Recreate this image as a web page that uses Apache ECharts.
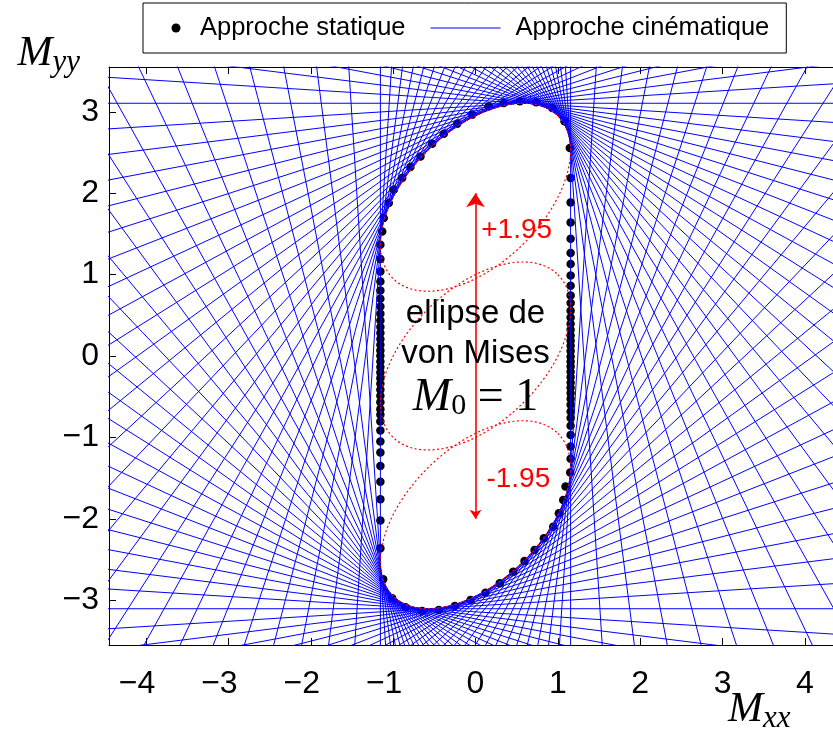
<!DOCTYPE html>
<html><head><meta charset="utf-8">
<script src="https://cdn.jsdelivr.net/npm/echarts@6/dist/echarts.min.js"></script>
<style>html,body{margin:0;padding:0;background:#fff}#c{width:833px;height:731px}</style>
</head><body><div id="c"></div>
<script>
// ---------- data ----------
const xTicks = [-4, -3, -2, -1, 0, 1, 2, 3, 4];
const yTicks = [-3, -2, -1, 0, 1, 2, 3];
const xRange = [-4.45, 4.45];
const yRange = [-3.55, 3.55];

// von Mises ellipse (M0) and its shifted copies (+1.95 / -1.95)
const M0 = 1;
const ellipseShifts = [1.95, 0, -1.95];
const hullShifts = [1.95, -1.95];

// kinematic approach: normal directions (degrees) of the support lines
const kinematicAnglesDeg = [0, 3.6, 7.2, 10.8, 14.4, 18, 21.6, 25.2, 28.8, 32.4, 36, 39.6, 43.2, 46.8, 50.4, 54, 57.6, 61.2, 64.8, 68.4, 72, 75.6, 79.2, 82.8, 86.4,
  90, 93.6, 97.2, 100.8, 104.4, 108, 111.6, 115.2, 118.8, 122.4, 126, 129.6, 133.2, 136.8, 140.4, 144, 147.6, 151.2, 154.8, 158.4, 162, 165.6, 169.2, 172.8, 176.4,
  180, 183.6, 187.2, 190.8, 194.4, 198, 201.6, 205.2, 208.8, 212.4, 216, 219.6, 223.2, 226.8, 230.4, 234, 237.6, 241.2, 244.8, 248.4, 252, 255.6, 259.2, 262.8, 266.4,
  270, 273.6, 277.2, 280.8, 284.4, 288, 291.6, 295.2, 298.8, 302.4, 306, 309.6, 313.2, 316.8, 320.4, 324, 327.6, 331.2, 334.8, 338.4, 342, 345.6, 349.2, 352.8, 356.4];

// static approach points
const staticX = [
  -1.155, -1.133, -1.114, -1.053, -0.992, -0.890, -0.790, -0.668, -0.526, -0.385, -0.222, -0.040, 0.162, 0.344, 0.538, 0.737, 0.932, 1.081, 1.145,
  1.155, 1.155, 1.155, 1.155, 1.155, 1.155, 1.155, 1.155, 1.155, 1.155, 1.155, 1.155, 1.155, 1.155, 1.155, 1.155, 1.155, 1.155, 1.155, 1.155,
  1.155, 1.155, 1.155, 1.155, 1.155, 1.155, 1.155, 1.155, 1.155, 1.155, 1.155, 1.155, 1.155, 1.155, 1.150,
  1.093, 1.065, 1.012, 0.944, 0.830, 0.717, 0.595, 0.458, 0.295, 0.121, -0.061, -0.251, -0.446, -0.647, -0.850, -1.012, -1.121,
  -1.155, -1.155, -1.155, -1.155, -1.155, -1.155, -1.155, -1.155, -1.155, -1.155, -1.155, -1.155, -1.155, -1.155, -1.155, -1.155, -1.155,
  -1.155, -1.155, -1.155, -1.155, -1.155, -1.155, -1.155, -1.155, -1.155, -1.155, -1.155, -1.155, -1.155, -1.155, -1.155, -1.155];
const staticY = [
  1.367, 1.530, 1.695, 1.880, 2.043, 2.187, 2.322, 2.452, 2.608, 2.731, 2.854, 2.965, 3.067, 3.109, 3.128, 3.116, 3.047, 2.883, 2.556,
  2.187, 1.887, 1.641, 1.441, 1.265, 1.130, 0.990, 0.863, 0.744, 0.650, 0.556, 0.473, 0.396, 0.322, 0.252, 0.187, 0.125, 0.060, -0.006, -0.068,
  -0.129, -0.194, -0.259, -0.326, -0.391, -0.456, -0.526, -0.600, -0.682, -0.763, -0.858, -0.969, -1.112, -1.263, -1.432,
  -1.604, -1.768, -1.931, -2.096, -2.238, -2.382, -2.517, -2.649, -2.792, -2.907, -2.997, -3.071, -3.120, -3.132, -3.087, -2.976, -2.742,
  -2.361, -2.022, -1.759, -1.546, -1.350, -1.186, -1.051, -0.916, -0.805, -0.723, -0.653, -0.567, -0.489, -0.416, -0.342, -0.272, -0.203,
  -0.136, -0.068, 0.002, 0.068, 0.138, 0.208, 0.282, 0.355, 0.436, 0.519, 0.608, 0.703, 0.805, 0.916, 1.039, 1.191];

// shift arrow and annotation texts
const arrowEnds = [-2.0, 2.0];
const annotText = ['+1.95', '-1.95', 'ellipse de', 'von Mises', '{m|M}{s|0}{r| = 1}'];
const annotX = [0.50, 0.52, 0, 0, 0];
const annotY = [1.55, -1.52, 0.52, 0.03, -0.51];

// ---------- derived geometry ----------
const deg = Math.PI / 180;
function ellipseSupport(c, s) { return M0 * Math.sqrt(4 / 3 * (1 + c * s)); }
const kinData = [];
kinematicAnglesDeg.forEach(a => {
  const c = Math.cos(a * deg), s = Math.sin(a * deg);
  let h = -Infinity;
  hullShifts.forEach(sh => { h = Math.max(h, ellipseSupport(c, s) + sh * s); });
  const px = h * c, py = h * s, L = 14;
  kinData.push([px - L * (-s), py - L * c]);
  kinData.push([px + L * (-s), py + L * c]);
  kinData.push(['-', '-']);
});
function ellipsePoints(shift) {
  const pts = [];
  for (let i = 0; i <= 240; i++) {
    const t = i / 240 * 2 * Math.PI;
    pts.push([M0 * (Math.cos(t) + Math.sin(t) / Math.sqrt(3)), M0 * (Math.cos(t) - Math.sin(t) / Math.sqrt(3)) + shift]);
  }
  return pts;
}
const staticData = staticX.map((x, i) => [x, staticY[i]]);

const FONT = 'Liberation Sans';
const SERIF = 'Liberation Serif';
const minusY = v => String(v).replace('-', '\u2212');
// x labels: digits centred on the tick, the minus sign hangs to the left
const minusX = v => v < 0 ? '\u2212' + Math.abs(v) + '{p| }' : String(v);

const redSeries = ellipseShifts.map(sh => ({
  type: 'line', name: 'ellipse ' + sh, data: ellipsePoints(sh), showSymbol: false, symbol: 'none',
  lineStyle: { color: '#ff0000', width: 1.2, type: [2, 2.5] }, z: 4, silent: true, animation: false
}));

const nameRich = { s: { fontFamily: SERIF, fontStyle: 'italic', fontSize: 31, padding: [18, 0, 0, 0] } };

const option = {
  animation: false,
  backgroundColor: '#fff',
  grid: { left: 109, top: 67, right: -9, bottom: 86, outerBoundsMode: 'none', containLabel: false },
  legend: {
    left: 143, top: 3, orient: 'horizontal',
    padding: [12, 17, 12, -28], itemGap: 25, itemWidth: 80, itemHeight: 12,
    borderColor: '#000', borderWidth: 1, backgroundColor: '#fff',
    textStyle: { fontFamily: FONT, fontSize: 25.5, color: '#000' },
    data: [
      { name: 'Approche statique', icon: 'path://M0,0M80,12M56.5,6a4.5,4.5 0 1,0 9,0a4.5,4.5 0 1,0 -9,0Z',
        itemStyle: { color: '#000' } },
      { name: 'Approche cinématique', icon: 'path://M0,0M80,12M0,5.4H70V6.6H0Z',
        itemStyle: { color: '#0000ff' }, lineStyle: { color: '#0000ff' } }
    ]
  },
  xAxis: [{
    type: 'value', min: xRange[0], max: xRange[1], position: 'bottom',
    name: 'M{s|xx}', nameLocation: 'end', nameGap: -114, nameMoveOverlap: false,
    nameTextStyle: { fontFamily: SERIF, fontStyle: 'italic', fontSize: 42, color: '#000', align: 'left', verticalAlign: 'top', padding: [40, 0, 0, 0],
      rich: nameRich },
    axisLine: { show: true, onZero: false, lineStyle: { color: '#000', width: 1 } },
    axisTick: { show: true, inside: true, length: 7, customValues: xTicks, lineStyle: { color: '#000' } },
    axisLabel: { show: true, customValues: xTicks, margin: 23, fontFamily: FONT, fontSize: 32, color: '#000', formatter: minusX,
      rich: { p: { fontFamily: FONT, fontSize: 32, width: 18 } } },
    splitLine: { show: false }
  }, {
    type: 'value', min: xRange[0], max: xRange[1], position: 'top',
    axisLine: { show: true, onZero: false, lineStyle: { color: '#000', width: 1 } },
    axisTick: { show: true, inside: true, length: 7, customValues: xTicks, lineStyle: { color: '#000' } },
    axisLabel: { show: false }, splitLine: { show: false }
  }],
  yAxis: [{
    type: 'value', min: yRange[0], max: yRange[1], position: 'left',
    name: 'M{s|yy}', nameLocation: 'end', nameGap: -11, nameMoveOverlap: false,
    nameTextStyle: { fontFamily: SERIF, fontStyle: 'italic', fontSize: 42, color: '#000', align: 'right', verticalAlign: 'bottom', padding: [0, 29, 0, 0],
      rich: nameRich },
    axisLine: { show: true, onZero: false, lineStyle: { color: '#000', width: 1 } },
    axisTick: { show: true, inside: true, length: 7, customValues: yTicks, lineStyle: { color: '#000' } },
    axisLabel: { show: true, customValues: yTicks, margin: 10, fontFamily: FONT, fontSize: 32, color: '#000', formatter: minusY },
    splitLine: { show: false }
  }, {
    type: 'value', min: yRange[0], max: yRange[1], position: 'right',
    axisLine: { show: true, onZero: false, lineStyle: { color: '#000', width: 1 } },
    axisTick: { show: false }, axisLabel: { show: false }, splitLine: { show: false }
  }],
  series: [
    {
      type: 'scatter', name: 'Approche statique', data: staticData, symbol: 'circle', symbolSize: 8.5,
      itemStyle: { color: '#000', opacity: 1 }, z: 2, silent: true
    },
    {
      type: 'line', name: 'Approche cinématique', data: kinData, showSymbol: false, symbol: 'none', connectNulls: false,
      lineStyle: { color: '#0000ff', width: 1 }, itemStyle: { color: '#0000ff' }, z: 3, silent: true, clip: true
    },
    ...redSeries,
    {
      type: 'lines', coordinateSystem: 'cartesian2d', name: 'shift',
      data: [{ coords: [[0, arrowEnds[0]], [0, arrowEnds[1]]] }],
      symbol: ['arrow', 'arrow'], symbolSize: [9, 14],
      lineStyle: { color: '#ff0000', width: 1.6, opacity: 1 }, z: 5, silent: true
    },
    {
      type: 'scatter', name: 'annotations', symbolSize: 0, z: 6, silent: true,
      itemStyle: { opacity: 1 },
      data: annotText.map((t, i) => ({
        value: [annotX[i], annotY[i]],
        label: {
          show: true, position: 'inside', formatter: t, opacity: 1, textBorderWidth: 0,
          fontFamily: FONT, fontSize: i < 2 ? 28 : 33, color: i < 2 ? '#ff0000' : '#000',
          rich: {
            m: { fontFamily: SERIF, fontStyle: 'italic', fontSize: 46, color: '#000' },
            s: { fontFamily: SERIF, fontSize: 30, color: '#000', padding: [18, 0, 0, 0] },
            r: { fontFamily: SERIF, fontSize: 46, color: '#000' }
          }
        }
      }))
    }
  ]
};
const chart = echarts.init(document.getElementById('c'), null, { renderer: 'canvas' });
chart.setOption(option);
</script></body></html>
